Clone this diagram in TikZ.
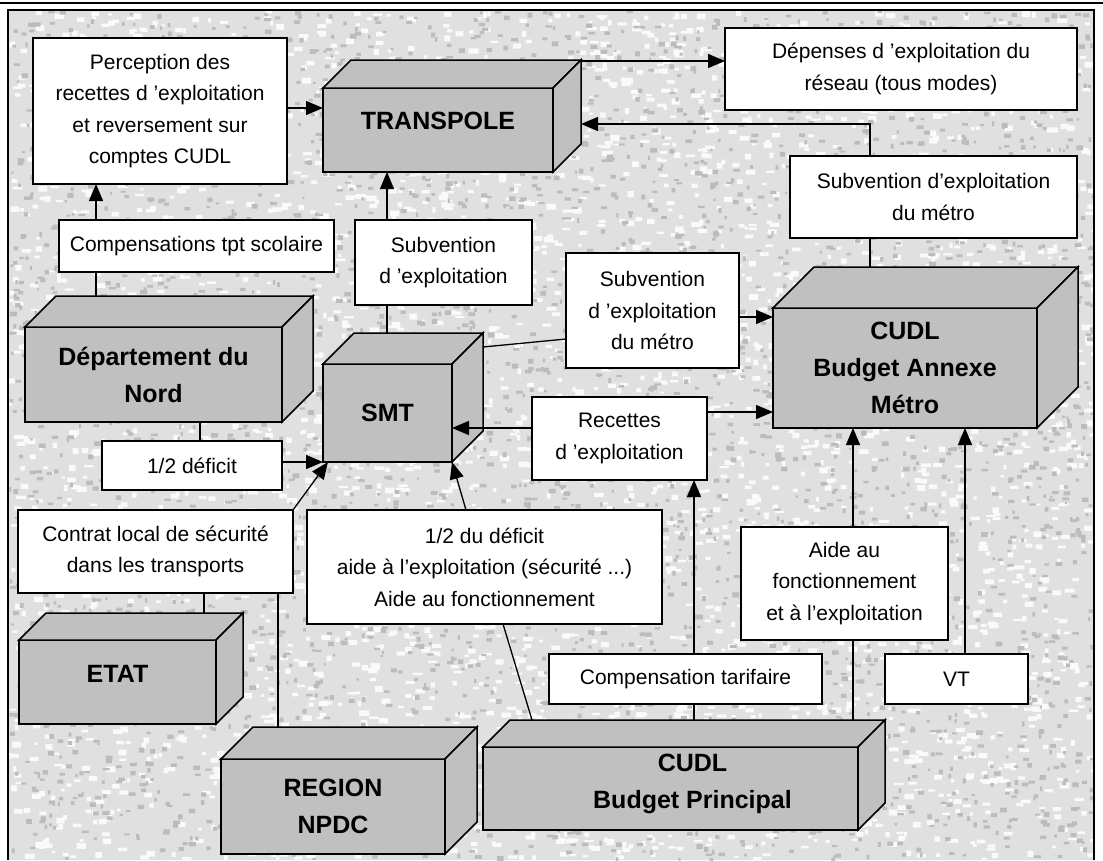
\documentclass[tikz,border=0pt]{standalone}
\usepackage{fontspec}
\setmainfont{Liberation Sans}
\usetikzlibrary{arrows.meta,calc}
\definecolor{paper}{RGB}{224,224,224}
\definecolor{speck}{RGB}{188,188,188}
\definecolor{flake}{RGB}{250,250,250}
\definecolor{blockgray}{RGB}{192,192,192}
\pgfdeclarelayer{texture}
\pgfsetlayers{texture,main}

% 3-D block: [label options]{name}{centre of front face}{width}{height}{depth}{label}
\newcommand{\blockbox}[7][]{%
  \node[frontface,minimum width=#4pt,minimum height=#5pt] (#2) at (#3) {};
  \draw[face] (#2.north west) -- ++(#6,-#6) -- ++(#4,0) -- (#2.north east) -- cycle;
  \draw[face] (#2.north east) -- ++(#6,-#6) -- ++(0,#5) -- (#2.south east) -- cycle;
  \coordinate (#2-bnw) at ($(#2.north west)+(#6,-#6)$);
  \coordinate (#2-bne) at ($(#2.north east)+(#6,-#6)$);
  \node[blocktext,#1] (#2-label) at (#2.center) {#7};
}

\begin{document}
\begin{tikzpicture}[x=1pt,y=-1pt,
  box/.style={draw=black,line width=1.5pt,fill=white,inner sep=0pt,outer sep=0pt,
              align=center,font=\fontsize{21}{31.5}\selectfont},
  face/.style={draw=black,line width=1.5pt,fill=blockgray,line join=miter},
  frontface/.style={face,inner sep=0pt,outer sep=0pt},
  blocktext/.style={font=\fontsize{25}{37}\selectfont\bfseries,align=center,inner sep=0pt},
  link/.style={line width=1.3pt},
  arr/.style={link,-{Triangle[length=17pt,width=14pt]}}]

\useasboundingbox (0,0) rectangle (1103,860);

% speckled paper background: light and dark flecks on a mid-grey ground,
% each set of flecks gathered in one path
\begin{pgfonlayer}{texture}
  \fill[white] (0,0) rectangle (1103,860);
  \fill[paper] (8,10) rectangle (1094,860);
  \begin{scope}
    \clip (8,10) rectangle (1094,860);
    \pgfmathsetseed{2718}
    \fill[flake] \foreach \k in {1,...,4000}{
      ({8+1084*rnd},{10+848*rnd}) rectangle ++({3+7*rnd},{2+4*rnd})
    };
    \fill[speck] \foreach \k in {1,...,4000}{
      ({8+1084*rnd},{10+848*rnd}) rectangle ++({2+5*rnd},{2+3*rnd})
    };
  \end{scope}
\end{pgfonlayer}

% page rules and frame
\draw[line width=2pt] (0,3) -- (1103,3);
\draw[line width=2pt] (8,860) -- (8,10) -- (1094,10) -- (1094,860);

% text boxes
\node[box,minimum width=254pt,minimum height=146pt] (perc) at (160,111)
  {Perception des\\recettes d ’exploitation\\et reversement sur\\comptes CUDL};
\node[box,minimum width=352pt,minimum height=82pt] (dep) at (901,69)
  {Dépenses d ’exploitation du\\réseau (tous modes)};
\node[box,minimum width=287pt,minimum height=82pt] (subm) at (933.5,197)
  {Subvention d’exploitation\\du métro};
\node[box,minimum width=275pt,minimum height=52pt] (comp) at (196.5,246)
  {Compensations tpt scolaire};
\node[box,minimum width=177pt,minimum height=85pt] (subv) at (443.5,262.5)
  {Subvention\\d ’exploitation};
\node[box,minimum width=173pt,minimum height=115pt] (subvm2) at (652.5,310.5)
  {Subvention\\d ’exploitation\\du métro};
\node[box,minimum width=180pt,minimum height=49pt] (dem) at (192,465.5)
  {1/2 déficit};
\node[box,minimum width=175pt,minimum height=83pt] (recettes) at (619.5,438.5)
  {Recettes\\d ’exploitation};
\node[box,minimum width=275pt,minimum height=83pt] (contrat) at (155.5,551.5)
  {Contrat local de sécurité\\dans les transports};
\node[box,minimum width=355pt,minimum height=114pt] (half) at (484.5,567)
  {1/2 du déficit\\aide à l’exploitation (sécurité ...)\\Aide au fonctionnement};
\node[box,minimum width=207pt,minimum height=113pt] (aide) at (844.5,583.5)
  {Aide au\\fonctionnement\\et à l’exploitation};
\node[box,minimum width=273pt,minimum height=50pt] (ctar) at (685.5,679)
  {Compensation tarifaire};
\node[box,minimum width=143pt,minimum height=50pt] (vt) at (956.5,679)
  {VT};

% 3-D blocks
\blockbox[yshift=9pt]{transpole}{438,130}{230}{84}{28}{TRANSPOLE}
\blockbox{dept}{153.5,374.5}{257}{95}{31}{Département du\\Nord}
\blockbox{smt}{387.5,413}{129}{98}{31}{SMT}
\blockbox{cba}{905,368}{264}{120}{41}{CUDL\\Budget Annexe\\Métro}
\blockbox[yshift=8pt]{etat}{117.5,682}{197}{84}{27}{ETAT}
\blockbox{region}{333,806.5}{224}{95}{32}{REGION\\NPDC}
\blockbox[xshift=22pt,yshift=5pt]{cbp}{670.5,788.5}{375}{83}{27}{CUDL\\Budget Principal}

% connectors
\draw[arr] (perc.east |- 0,108) -- (transpole.west |- 0,108);
\draw[arr] (transpole-bne |- 0,61) -- (dep.west |- 0,61);
\draw[arr] (870,0 |- subm.north) |- (transpole-bne |- 0,124);
\draw[link] (870,0 |- subm.south) -- (870,0 |- cba-bnw);
\draw[link] (96,0 |- dept-bnw) -- (96,0 |- comp.south);
\draw[arr] (96,0 |- comp.north) -- (96,0 |- perc.south);
\draw[link] (387,0 |- smt-bnw) -- (387,0 |- subv.south);
\draw[arr] (387,0 |- subv.north) -- (387,0 |- transpole.south);
\draw[link] (smt-bne |- 0,347) -- (subvm2.west |- 0,339);
\draw[arr] (subvm2.east |- 0,317) -- (cba.west |- 0,317);
\draw[arr] (recettes.west |- 0,428) -- (smt.east |- 0,428);
\draw[arr] (recettes.east |- 0,412) -- (cba.west |- 0,412);
\draw[link] (200,0 |- dept.south) -- (200,0 |- dem.north);
\draw[arr] (dem.east |- 0,462) -- (smt.south west);
\draw[link] (204,0 |- etat-bnw) -- (204,0 |- contrat.south);
\draw[link] (278,0 |- region-bnw) -- (278,0 |- contrat.south);
\draw[arr] (contrat.north east) -- ($(smt.south west)+(5,0)$);
\draw[arr] (466,0 |- half.north) -- (smt.south east);
\draw[link] (532,0 |- cbp-bnw) -- (503,0 |- half.south);
\draw[arr] (694,0 |- ctar.north) -- (694,0 |- recettes.south);
\draw[link] (694,0 |- cbp-bnw) -- (694,0 |- ctar.south);
\draw[link] (853,0 |- cbp-bnw) -- (853,0 |- aide.south);
\draw[arr] (853,0 |- aide.north) -- (853,0 |- cba.south);
\draw[arr] (965,0 |- vt.north) -- (965,0 |- cba.south);

\end{tikzpicture}
\end{document}
